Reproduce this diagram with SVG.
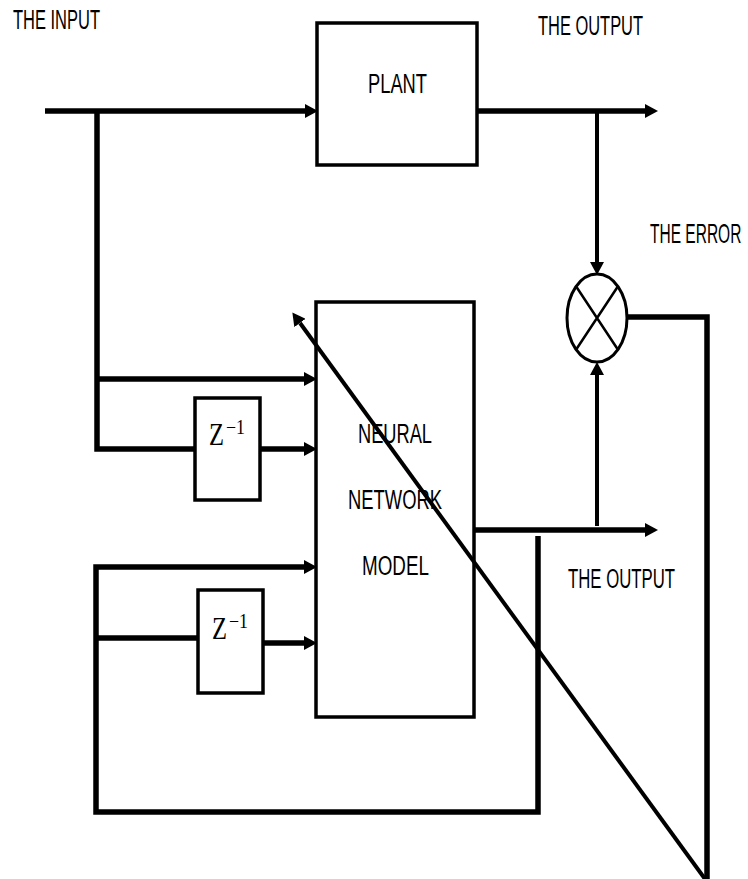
<svg xmlns="http://www.w3.org/2000/svg" width="748" height="879" viewBox="0 0 748 879">
<style>
.lbl{font-family:"Liberation Sans","DejaVu Sans",sans-serif;font-size:27px;fill:#000}
.box{fill:#fff;stroke:#000;stroke-width:3.5}
.w{fill:none;stroke:#000;stroke-width:5.5}
.thin{fill:none;stroke:#000;stroke-width:4}
.zt{font-family:"Liberation Serif","DejaVu Serif",serif;fill:#000}
</style>
<defs>
<marker id="ah" markerUnits="userSpaceOnUse" markerWidth="13" markerHeight="14" refX="0" refY="7" orient="auto">
<path d="M0,0 L13,7 L0,14 z" fill="#000"/>
</marker>
</defs>
<rect width="748" height="879" fill="#fff"/>
<g id="connectors">
<path class="w" d="M45,111 H305" marker-end="url(#ah)"/>
<path class="w" d="M97,111 V449 H194"/>
<path class="w" d="M97,379 H304" marker-end="url(#ah)"/>
<path class="w" d="M260,449 H304" marker-end="url(#ah)"/>
<path class="w" d="M477,111 H645" marker-end="url(#ah)"/>
<path class="thin" d="M597,111 V262" marker-end="url(#ah)"/>
<path class="w" d="M627,317 H707 V879"/>
<path class="w" d="M474,530 H645" marker-end="url(#ah)"/>
<path class="thin" d="M597,526 V375" marker-end="url(#ah)"/>
<path class="w" d="M538,536 V812 H96 V567 H304" marker-end="url(#ah)"/>
<path class="w" d="M96,638 H198"/>
<path class="w" d="M263,643 H304" marker-end="url(#ah)"/>
</g>
<g id="plant">
<rect class="box" x="317" y="23" width="160" height="142"/>
<text class="lbl" x="368" y="93" textLength="59" lengthAdjust="spacingAndGlyphs">PLANT</text>
</g>
<g id="nn">
<rect class="box" x="316" y="302" width="158" height="415"/>
<text class="lbl" x="358" y="443" textLength="74" lengthAdjust="spacingAndGlyphs">NEURAL</text>
<text class="lbl" x="348" y="509" textLength="94" lengthAdjust="spacingAndGlyphs">NETWORK</text>
<text class="lbl" x="362" y="575" textLength="67" lengthAdjust="spacingAndGlyphs">MODEL</text>
</g>
<g id="delay1">
<rect class="box" x="195" y="398" width="65" height="102"/>
<text class="zt" x="209" y="445" font-size="31" textLength="15" lengthAdjust="spacingAndGlyphs">Z</text>
<text class="zt" x="226" y="434" font-size="20" textLength="19" lengthAdjust="spacingAndGlyphs">−1</text>
</g>
<g id="delay2">
<rect class="box" x="198" y="590" width="65" height="103"/>
<text class="zt" x="212" y="639" font-size="31" textLength="15" lengthAdjust="spacingAndGlyphs">Z</text>
<text class="zt" x="229" y="628" font-size="20" textLength="19" lengthAdjust="spacingAndGlyphs">−1</text>
</g>
<g id="comparator">
<ellipse cx="597" cy="318" rx="30" ry="44" fill="#fff" stroke="#000" stroke-width="3"/>
<path d="M576.5,287 L617.5,349 M617.5,287 L576.5,349" stroke="#000" stroke-width="2.5" fill="none"/>
</g>
<g id="adapt">
<path class="thin" d="M705,879 L300,323" marker-end="url(#ah)"/>
</g>
<g id="labels">
<text class="lbl" x="13" y="29" textLength="87" lengthAdjust="spacingAndGlyphs">THE INPUT</text>
<text class="lbl" x="538" y="35" textLength="105" lengthAdjust="spacingAndGlyphs">THE OUTPUT</text>
<text class="lbl" transform="translate(650,243) scale(0.575,1)">THE ERROR</text>
<text class="lbl" x="568" y="588" textLength="107" lengthAdjust="spacingAndGlyphs">THE OUTPUT</text>
</g>
</svg>
